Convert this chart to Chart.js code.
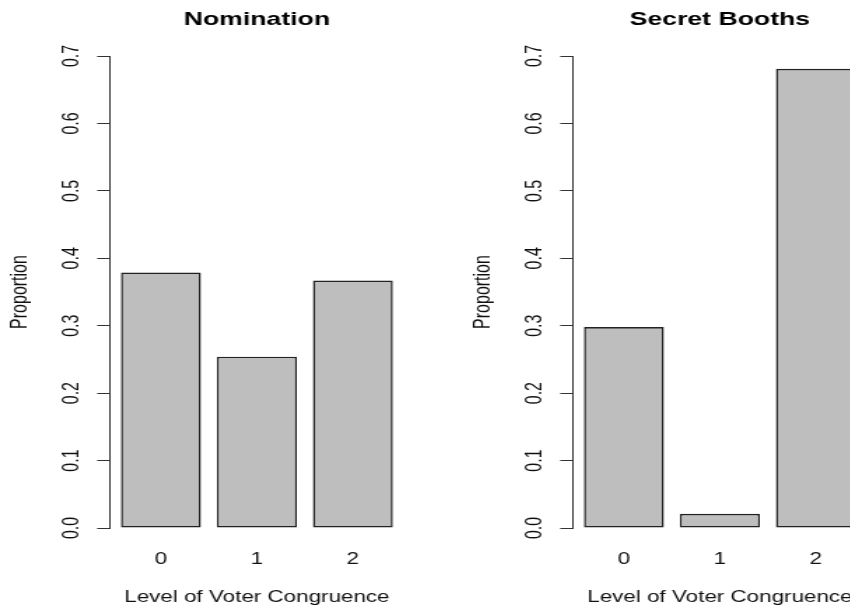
<!DOCTYPE html>
<html>
<head>
<meta charset="utf-8">
<script src="https://cdn.jsdelivr.net/npm/chart.js@4.4.1/dist/chart.umd.min.js"></script>
<style>
  html, body { margin: 0; padding: 0; background: #fff; }
  body { width: 850px; height: 608px; overflow: hidden; position: relative; }
  /* the source picture is stretched sideways, so each panel is drawn narrow and widened */
  .panel { position: absolute; top: 0; width: 331px; height: 608px; transform: scaleX(1.4); transform-origin: 0 0; }
  .panel canvas { display: block; }
</style>
</head>
<body>
<div class="panel" style="left:0"><canvas id="nomChart" width="331" height="608"></canvas></div>
<div class="panel" style="left:463px"><canvas id="boothChart" width="331" height="608"></canvas></div>
<script>
// Data
const categories = ['0', '1', '2'];
const nominationValues = [0.379, 0.254, 0.367];
const secretBoothValues = [0.298, 0.021, 0.681];
const yTicks = [0, 0.1, 0.2, 0.3, 0.4, 0.5, 0.6, 0.7];
const yTickLabels = ['0.0', '0.1', '0.2', '0.3', '0.4', '0.5', '0.6', '0.7'];
const xLabel = 'Level of Voter Congruence';
const yLabel = 'Proportion';

const FONT = "'Liberation Sans', Arial, Helvetica, sans-serif";
Chart.defaults.font.family = FONT;
Chart.defaults.color = '#000';

// R writes the y tick labels turned a quarter turn, and centres the title over the plot area
const rStyleText = {
    id: 'rStyleText',
    afterDraw(chart, args, opts) {
        const y = chart.scales.y;
        const area = chart.chartArea;
        const ctx = chart.ctx;
        ctx.save();
        ctx.textAlign = 'center';
        ctx.textBaseline = 'middle';

        ctx.font = '16px ' + FONT;
        ctx.fillStyle = '#111';
        y.ticks.forEach((t, i) => {
            ctx.save();
            ctx.translate(y.right - 27.2, y.getPixelForValue(t.value));
            ctx.rotate(-Math.PI / 2);
            ctx.fillText(yTickLabels[i], 0, 0);
            ctx.restore();
        });

        ctx.font = 'bold 19px ' + FONT;
        ctx.fillStyle = '#000';
        ctx.fillText(opts.title, (area.left + area.right) / 2, 19.3);
        ctx.restore();
    }
};

function makePanel(canvasId, title, values) {
    return new Chart(document.getElementById(canvasId), {
        type: 'bar',
        data: {
            datasets: [{
                data: values.map((v, i) => ({ x: i, y: v })),
                backgroundColor: '#bebebe',
                borderColor: '#222',
                borderWidth: { left: 1.5, right: 1.5, top: 1.6, bottom: 1.6 },
                borderSkipped: false,
                barPercentage: 1 / 1.2,
                categoryPercentage: 1
            }]
        },
        options: {
            responsive: false,
            animation: false,
            events: [],
            layout: { padding: { left: 0, right: 42.6, top: 56, bottom: 0 } },
            plugins: {
                legend: { display: false },
                tooltip: { enabled: false },
                title: { display: false },
                rStyleText: { title: title }
            },
            scales: {
                x: {
                    type: 'linear',
                    min: -0.53,
                    max: 2.53,
                    offset: false,
                    grid: { display: false, drawTicks: false, offset: false },
                    border: { display: false },
                    afterBuildTicks: s => { s.ticks = categories.map((c, i) => ({ value: i })); },
                    afterFit: s => { s.height = 80; },
                    ticks: {
                        callback: (v, i) => categories[i],
                        color: '#111',
                        font: { size: 16 },
                        padding: 22,
                        maxRotation: 0,
                        autoSkip: false
                    },
                    title: {
                        display: true,
                        text: xLabel,
                        color: '#111',
                        font: { size: 16 },
                        padding: { top: 0, bottom: 1 }
                    }
                },
                y: {
                    min: 0,
                    max: 0.7,
                    afterBuildTicks: s => { s.ticks = yTicks.map(v => ({ value: v })); },
                    afterFit: s => { s.width = 78.6; },
                    grid: { drawOnChartArea: false, drawTicks: true, tickLength: 9.2, color: '#333' },
                    border: { display: true, color: '#333' },
                    ticks: { display: false },
                    title: {
                        display: true,
                        text: yLabel,
                        color: '#111',
                        font: { size: 16 },
                        padding: { top: 5.2, bottom: 0 }
                    }
                }
            }
        },
        plugins: [rStyleText]
    });
}

makePanel('nomChart', 'Nomination', nominationValues);
makePanel('boothChart', 'Secret Booths', secretBoothValues);
</script>
</body>
</html>
